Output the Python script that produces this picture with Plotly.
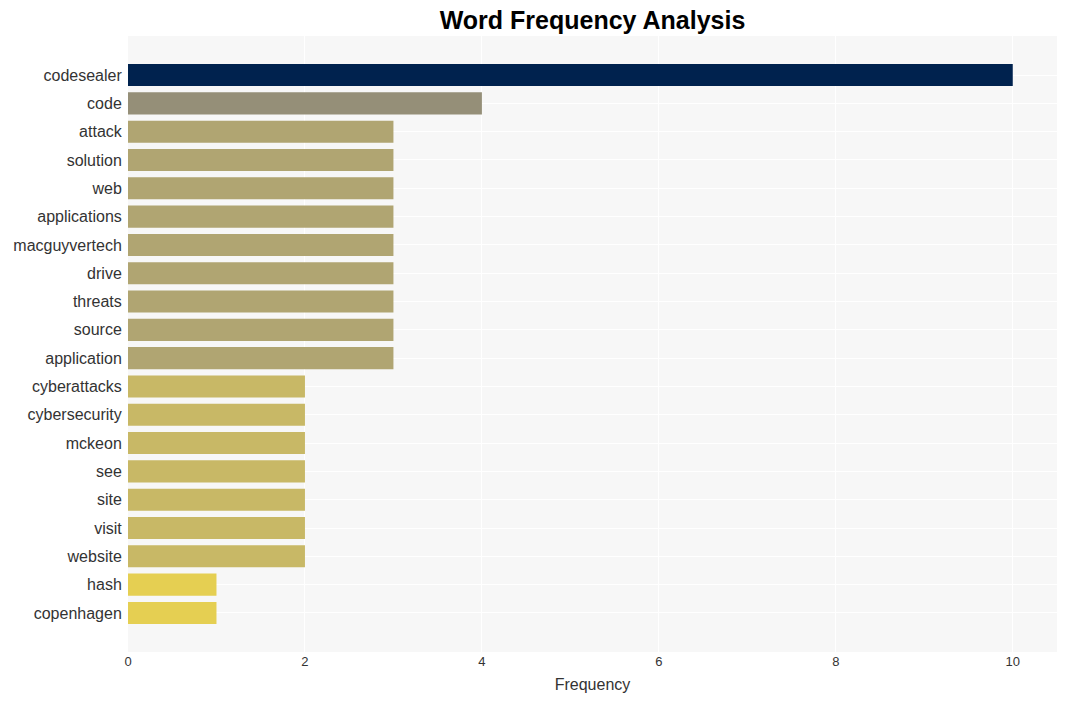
import plotly.graph_objects as go

words = ["codesealer", "code", "attack", "solution", "web", "applications",
         "macguyvertech", "drive", "threats", "source", "application",
         "cyberattacks", "cybersecurity", "mckeon", "see", "site", "visit",
         "website", "hash", "copenhagen"]
freqs = [10, 4, 3, 3, 3, 3, 3, 3, 3, 3, 3, 2, 2, 2, 2, 2, 2, 2, 1, 1]
color_by_freq = {10: "#00224E", 4: "#958F78", 3: "#B0A572", 2: "#C8B866", 1: "#E5CF52"}
colors = [color_by_freq[f] for f in freqs]

fig = go.Figure(go.Bar(
    x=freqs, y=words, orientation="h",
    marker=dict(color=colors, line=dict(width=0)),
    width=0.78,
))

fig.update_layout(
    width=1059, height=693,
    margin=dict(l=120, r=10, t=28, b=49, autoexpand=False),
    paper_bgcolor="white",
    plot_bgcolor="#F7F7F7",
    title=dict(text="<b>Word Frequency Analysis</b>", x=0.5, xref="paper", xanchor="center",
               y=0.983, yanchor="middle",
               font=dict(family="Arial, Liberation Sans", size=25, color="black")),
    font=dict(family="Arial, Liberation Sans", color="#333"),
    showlegend=False,
)
fig.update_xaxes(range=[0, 10.5], dtick=2, gridcolor="white", gridwidth=1,
                 zeroline=False, tickfont=dict(size=13, color="#333"),
                 title=dict(text="Frequency", font=dict(size=16, color="#333"), standoff=10))
fig.update_yaxes(categoryorder="array", categoryarray=words, automargin=False,
                 range=[len(words) - 1 + 1.38, -1.38], gridcolor="white",
                 ticks="outside", ticklen=2, tickcolor="rgba(0,0,0,0)",
                 tickfont=dict(size=16, color="#333"))

fig.write_html("out.html")
